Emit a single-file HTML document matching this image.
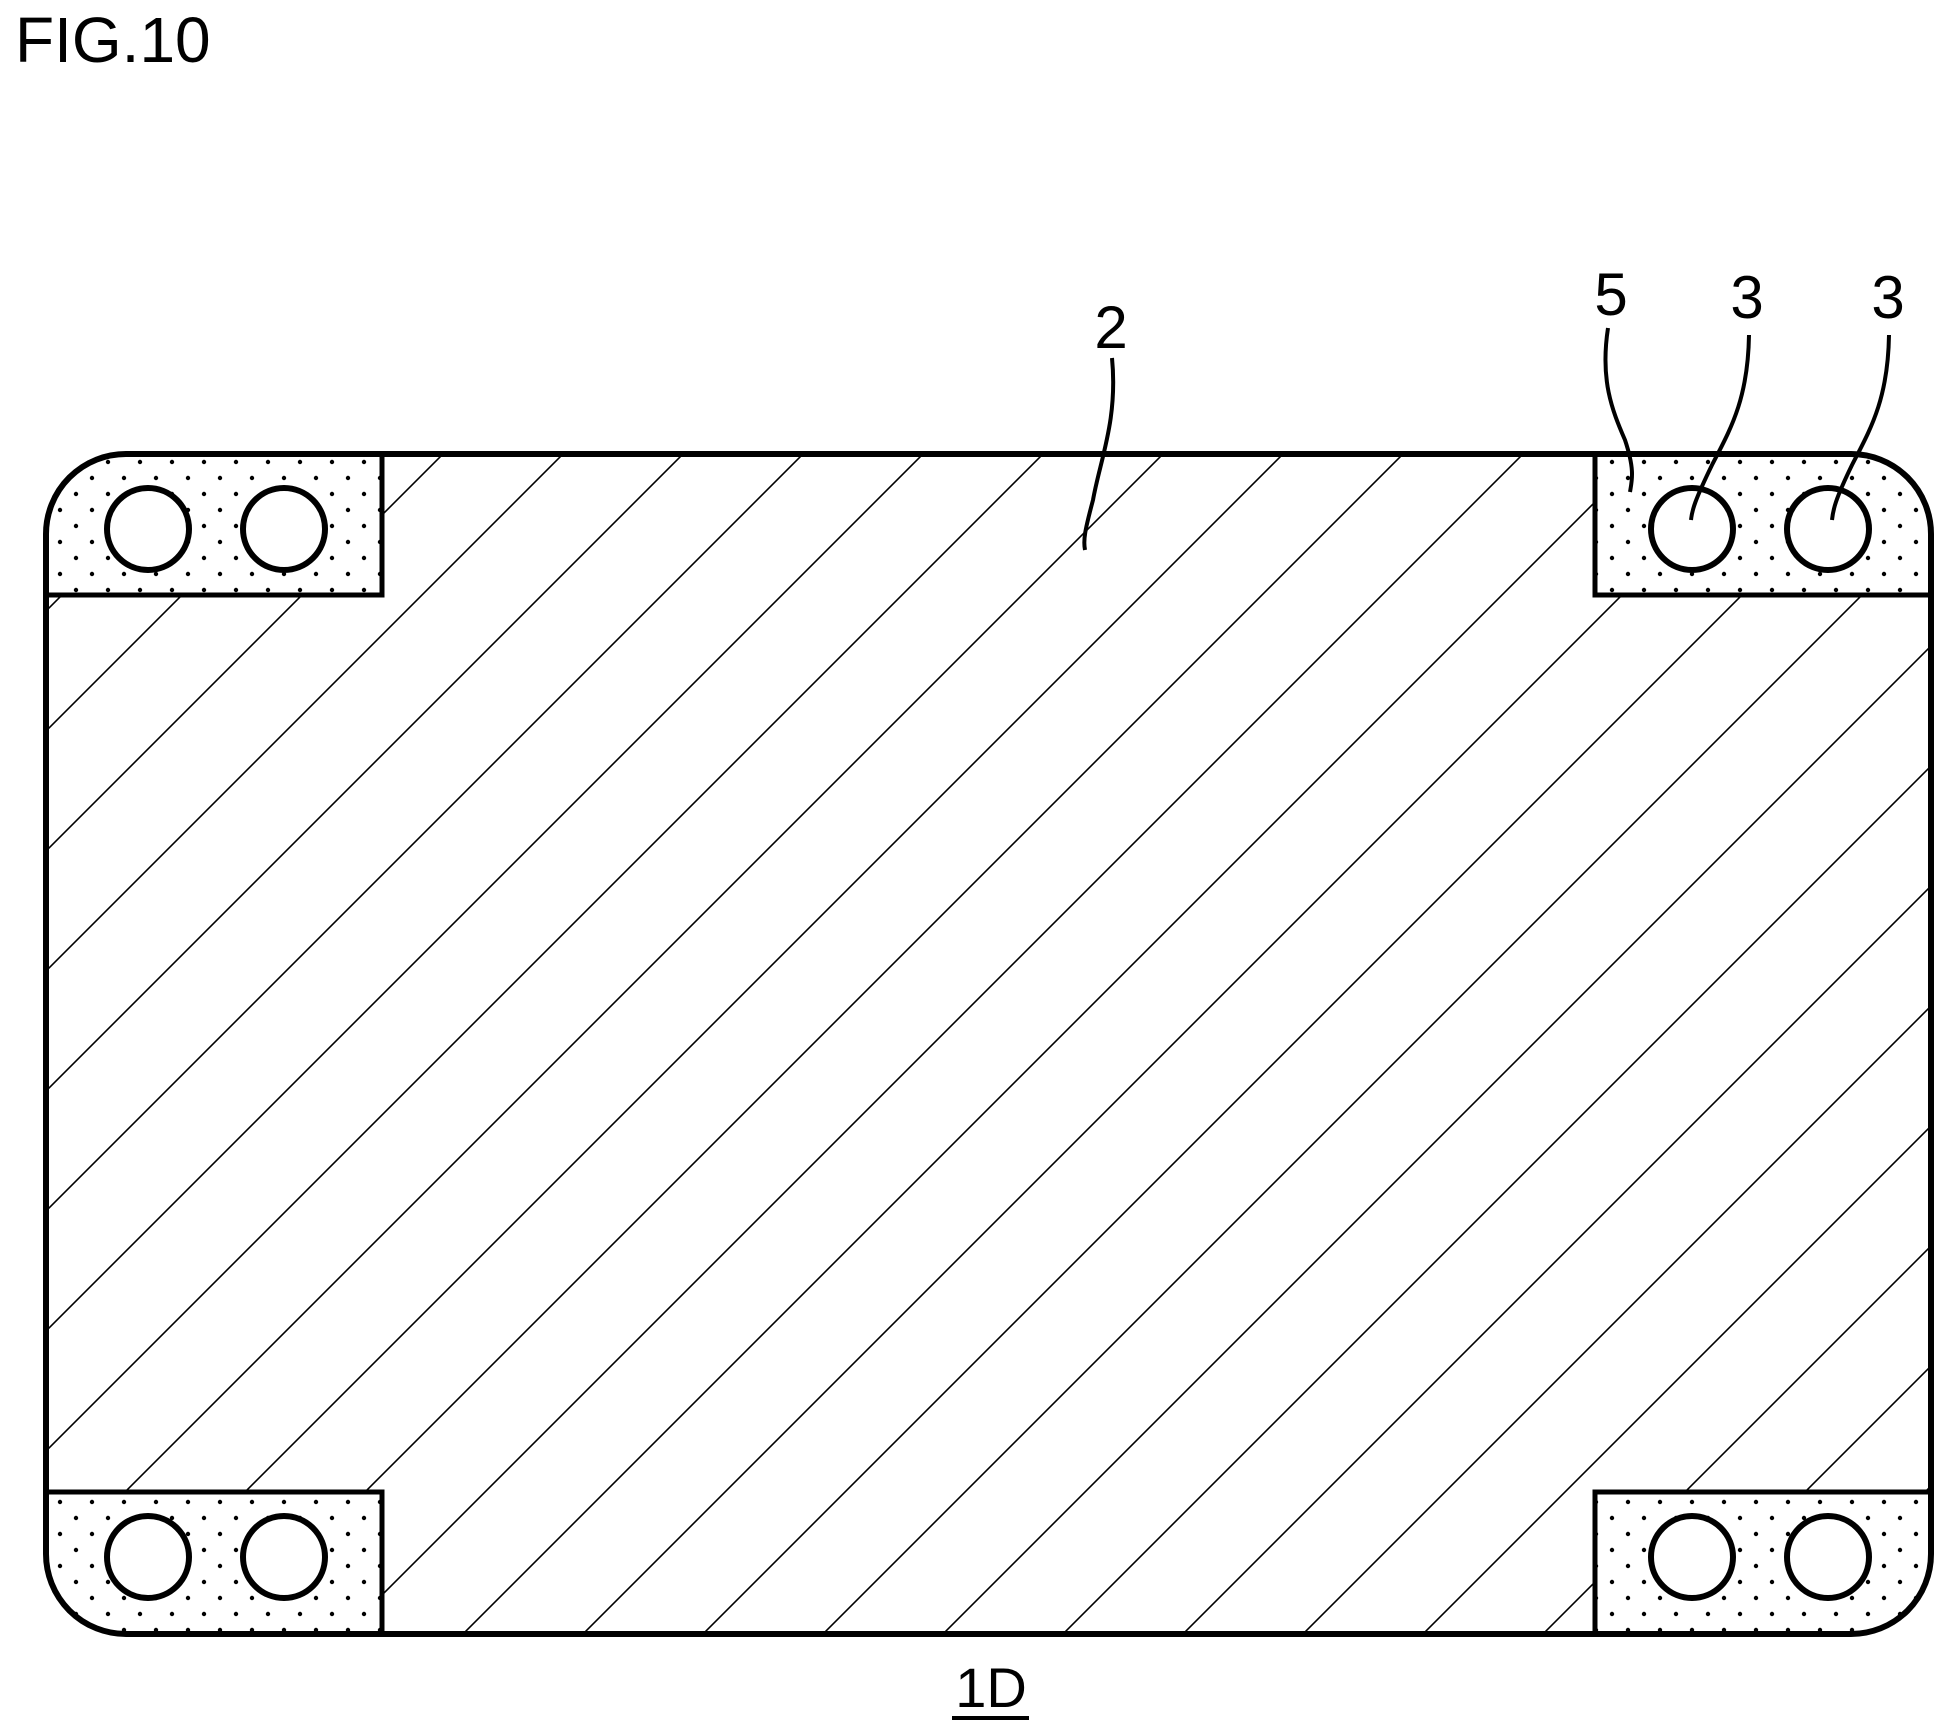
<!DOCTYPE html>
<html><head><meta charset="utf-8"><style>
html,body{margin:0;padding:0;background:#fff;}
svg{display:block;}
text{font-family:"Liberation Sans",sans-serif;fill:#000;}
</style></head><body>
<svg width="1949" height="1736" viewBox="0 0 1949 1736">
<defs>
<pattern id="dots" width="32" height="32" patternUnits="userSpaceOnUse" x="4" y="6">
<circle cx="8" cy="8" r="2.2" fill="#000"/><circle cx="24" cy="24" r="2.2" fill="#000"/>
</pattern>
<clipPath id="outer"><rect x="46" y="454" width="1885" height="1180" rx="80" ry="80"/></clipPath>
</defs>
<text x="15" y="62" font-size="64">FIG.10</text>
<g clip-path="url(#outer)" id="hatch"></g>
<g clip-path="url(#outer)">
<rect x="46" y="454" width="336" height="141" fill="#fff" stroke="#000" stroke-width="5"/>
<rect x="46" y="454" width="336" height="141" fill="url(#dots)"/>
<rect x="1595" y="454" width="336" height="141" fill="#fff" stroke="#000" stroke-width="5"/>
<rect x="1595" y="454" width="336" height="141" fill="url(#dots)"/>
<rect x="46" y="1492" width="336" height="142" fill="#fff" stroke="#000" stroke-width="5"/>
<rect x="46" y="1492" width="336" height="142" fill="url(#dots)"/>
<rect x="1595" y="1492" width="336" height="142" fill="#fff" stroke="#000" stroke-width="5"/>
<rect x="1595" y="1492" width="336" height="142" fill="url(#dots)"/>
</g>
<g fill="#fff" stroke="#000" stroke-width="6">
<circle cx="148" cy="529" r="41"/>
<circle cx="284" cy="529" r="41"/>
<circle cx="1692" cy="529" r="41"/>
<circle cx="1828" cy="529" r="41"/>
<circle cx="148" cy="1557" r="41"/>
<circle cx="284" cy="1557" r="41"/>
<circle cx="1692" cy="1557" r="41"/>
<circle cx="1828" cy="1557" r="41"/>
</g>
<rect x="46" y="454" width="1885" height="1180" rx="80" ry="80" fill="none" stroke="#000" stroke-width="6"/>
<g fill="none" stroke="#000" stroke-width="4">
<path d="M1112,358 C1118,420 1100,460 1093,500 C1085,530 1083,540 1085,550"/>
<path d="M1608,328 C1600,380 1612,410 1625,440 C1635,470 1632,480 1630,492"/>
<path d="M1749,335 C1748,400 1730,430 1712,465 C1695,500 1692,510 1691,520"/>
<path d="M1889,335 C1888,400 1870,430 1852,465 C1835,500 1833,510 1832,520"/>
</g>
<text x="1111" y="348" font-size="60" text-anchor="middle">2</text>
<text x="1611" y="315" font-size="60" text-anchor="middle">5</text>
<text x="1747" y="318" font-size="60" text-anchor="middle">3</text>
<text x="1888" y="318" font-size="60" text-anchor="middle">3</text>
<text x="991" y="1707" font-size="56" text-anchor="middle">1D</text>
<line x1="952" y1="1718" x2="1029" y2="1718" stroke="#000" stroke-width="4"/>
</svg>
<script>
const g=document.getElementById('hatch');
const ns='http://www.w3.org/2000/svg';
for(let c=57;c<1949+1736;c+=120){
  const l=document.createElementNS(ns,'line');
  
  
  l.setAttribute('x1',c-400);l.setAttribute('y1',400);
  l.setAttribute('x2',c-1700);l.setAttribute('y2',1700);
  l.setAttribute('stroke','#000');l.setAttribute('stroke-width','1.6');
  g.appendChild(l);
}
</script>
</body></html>
